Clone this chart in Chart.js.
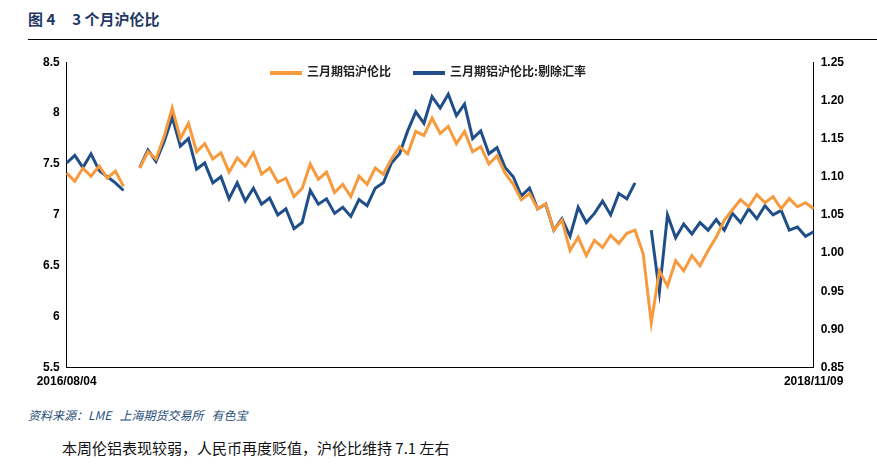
<!DOCTYPE html>
<html><head><meta charset="utf-8">
<script src="https://cdn.jsdelivr.net/npm/chart.js@4/dist/chart.umd.min.js"></script>
<style>
body{margin:0;background:#fff;font-family:"Noto Sans CJK SC",Arial,sans-serif;width:877px;height:466px;position:relative;overflow:hidden}
#title{position:absolute;left:28px;top:8px;font-size:15px;font-weight:bold;color:#1f3864}
#rule{position:absolute;left:28px;right:0;top:39px;border-top:1px solid #000}
#wrap{position:absolute;left:0;top:52px;width:877px;height:340px}
#legend{position:absolute;top:62px;left:270px;font-size:12px;font-weight:bold;color:#222;display:flex;gap:22px}
#legend span i{display:inline-block;width:32px;height:4px;vertical-align:middle;margin-right:5px}
#src{position:absolute;left:28px;top:406px;font-size:12px;font-style:italic;color:#1f4e79}
#note{position:absolute;left:62px;top:437px;font-size:15px;color:#111}
</style></head><body>
<div id="title">图 4&nbsp;&nbsp;&nbsp;&nbsp;&nbsp;3 个月沪伦比</div>
<div id="rule"></div>
<div id="wrap"><canvas id="c"></canvas></div>
<div id="legend"><span><i style="background:#f79a3e"></i>三月期铝沪伦比</span><span><i style="background:#1f4e89"></i>三月期铝沪伦比:剔除汇率</span></div>
<div id="src">资料来源：LME&nbsp;&nbsp;&nbsp;上海期货交易所&nbsp;&nbsp;&nbsp;有色宝</div>
<div id="note">本周伦铝表现较弱，人民币再度贬值，沪伦比维持 7.1 左右</div>
<script>
const dates = ['2016/08/04'];
const shfeLme = [7.41,7.33,7.46,7.38,7.48,7.36,7.43,7.28,null,7.46,7.62,7.55,7.77,8.05,7.75,7.90,7.62,7.70,7.55,7.61,7.42,7.56,7.48,7.61,7.40,7.46,7.32,7.36,7.18,7.26,7.50,7.35,7.42,7.22,7.30,7.18,7.38,7.30,7.46,7.40,7.55,7.67,7.60,7.82,7.78,7.95,7.80,7.87,7.70,7.82,7.62,7.67,7.50,7.58,7.41,7.30,7.15,7.21,7.06,7.11,6.85,6.95,6.65,6.78,6.60,6.75,6.68,6.80,6.72,6.82,6.85,6.62,5.94,6.45,6.30,6.55,6.45,6.60,6.50,6.65,6.78,6.95,7.05,7.15,7.08,7.20,7.12,7.18,7.06,7.16,7.08,7.12,7.06];
const exFx = [1.118,1.128,1.112,1.130,1.108,1.100,1.092,1.082,null,1.112,1.135,1.120,1.146,1.178,1.140,1.150,1.110,1.118,1.092,1.100,1.071,1.092,1.068,1.085,1.064,1.072,1.050,1.058,1.032,1.040,1.082,1.064,1.071,1.052,1.060,1.048,1.070,1.062,1.085,1.092,1.118,1.130,1.160,1.185,1.170,1.205,1.190,1.208,1.180,1.195,1.150,1.160,1.130,1.138,1.112,1.100,1.075,1.085,1.058,1.064,1.030,1.045,1.022,1.060,1.040,1.052,1.068,1.050,1.078,1.071,1.092,null,1.030,0.949,1.050,1.020,1.038,1.025,1.040,1.030,1.044,1.030,1.052,1.040,1.058,1.045,1.062,1.050,1.056,1.030,1.034,1.022,1.028];
const n = shfeLme.length;
while (dates.length < n - 1) dates.push('');
dates.push('2018/11/09');

new Chart(document.getElementById('c'), {
  type: 'line',
  data: {
    labels: dates,
    datasets: [
      {label: '三月期铝沪伦比', data: shfeLme, borderColor: '#f79a3e', borderWidth: 3, pointRadius: 0, yAxisID: 'y', tension: 0, spanGaps: false},
      {label: '三月期铝沪伦比:剔除汇率', data: exFx, borderColor: '#1f4e89', borderWidth: 3, pointRadius: 0, yAxisID: 'y1', tension: 0, spanGaps: false}
    ]
  },
  options: {
    responsive: true, maintainAspectRatio: false, animation: false,
    layout: {padding: {left: 40, right: 30, top: 10}},
    plugins: {legend: {display: false}, tooltip: {enabled: false}},
    scales: {
      x: {
        grid: {display: false, drawTicks: true, tickLength: 4, color: '#000'},
        border: {color: '#000'},
        ticks: {autoSkip: false, maxRotation: 0, color: '#000', font: {size: 12, weight: 'bold'},
          callback: (v, i) => dates[i]}
      },
      y: {
        position: 'left', min: 5.5, max: 8.5,
        grid: {display: false, drawTicks: true, tickLength: 4}, border: {color: '#000'},
        ticks: {stepSize: 0.5, color: '#000', font: {size: 12, weight: 'bold'}, callback: v => String(v)}
      },
      y1: {
        position: 'right', min: 0.85, max: 1.25,
        grid: {display: false, drawTicks: true, tickLength: 4}, border: {color: '#000'},
        ticks: {stepSize: 0.05, color: '#000', font: {size: 12, weight: 'bold'}, callback: v => v.toFixed(2)}
      }
    }
  }
});
</script>
</body></html>
